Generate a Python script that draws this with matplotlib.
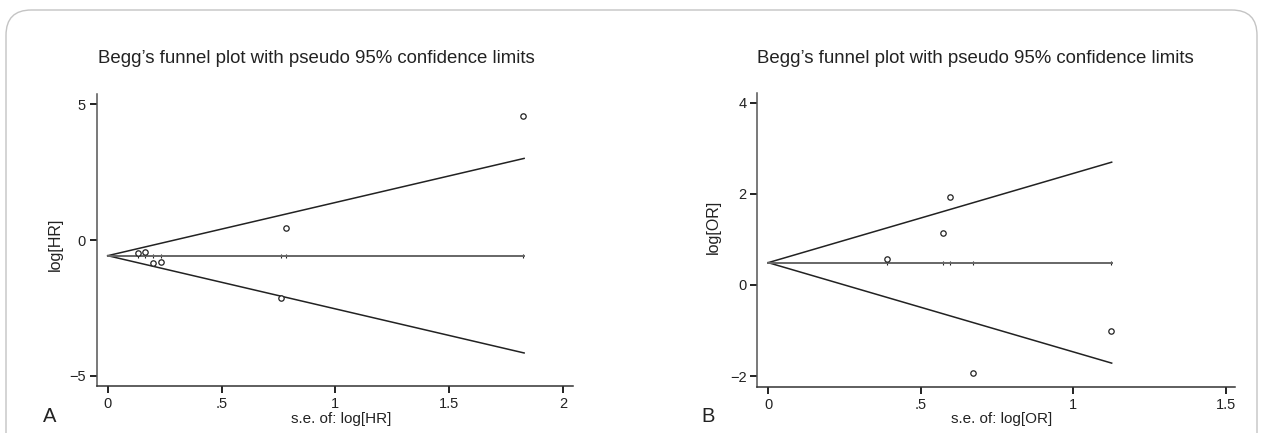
import matplotlib
matplotlib.use("Agg")
import matplotlib.pyplot as plt
from matplotlib.patches import FancyBboxPatch
import numpy as np

plt.rcParams['font.family'] = ['Liberation Sans', 'DejaVu Sans']

# panel A: log hazard ratios
se_hr = [1.825, 0.783, 0.762, 0.134, 0.164, 0.199, 0.236]
log_hr = [4.58, 0.45, -2.12, -0.47, -0.44, -0.83, -0.82]
pooled_hr = -0.578
xmax_hr = 1.829

# panel B: log odds ratios
se_or = [0.595, 0.574, 0.391, 1.125, 0.673]
log_or = [1.93, 1.14, 0.58, -1.01, -1.94]
pooled_or = 0.49
xmax_or = 1.126

title = "Begg\u2019s funnel plot with pseudo 95% confidence limits"
txt = '#222222'
W, H = 1262, 433

fig = plt.figure(figsize=(W / 100, H / 100), dpi=100)

# rounded frame around the figure
frame = FancyBboxPatch((6 / W, -0.2), 1251 / W, 1.2 - 10 / H, transform=fig.transFigure,
                       boxstyle="round,pad=0,rounding_size=0.02", fill=False,
                       edgecolor='#c4c4c4', lw=1.0, mutation_aspect=W / H)
fig.patches.append(frame)


def funnel(ax, se, eff, pooled, xmax, xlim, ylim, xticks, xticklabels, yticks,
           ylabel, xlabel, ylab_pos, xlab_pos):
    s = np.array([0, xmax])
    ax.plot(s, pooled + 1.96 * s, color='#222222', lw=1.1)
    ax.plot(s, pooled - 1.96 * s, color='#222222', lw=1.1)
    ax.plot(s, [pooled, pooled], color='#666666', lw=1.4)
    ax.scatter(se, [pooled] * len(se), marker='|', s=8, color='#222222', lw=0.8)
    ax.scatter(se, eff, s=15, facecolors='white', edgecolors='#222222', lw=0.9,
               zorder=3)
    ax.set_xlim(*xlim)
    ax.set_ylim(*ylim)
    ax.set_xticks(xticks)
    ax.set_xticklabels(xticklabels)
    ax.set_yticks(yticks)
    ax.set_yticklabels([str(v).replace('-', '\u2212') for v in yticks])
    for sp in ['top', 'right']:
        ax.spines[sp].set_visible(False)
    ax.spines['left'].set_color('#555555')
    ax.spines['bottom'].set_color('#333333')
    for sp in ['left', 'bottom']:
        ax.spines[sp].set_linewidth(1.1)
    ax.tick_params(direction='out', length=4.8, width=1.4, colors='#222222',
                   labelsize=10.5, labelcolor=txt, pad=3)
    ax.set_ylabel(ylabel, fontsize=11.5, color=txt, va='center')
    ax.yaxis.set_label_coords(*ylab_pos)
    ax.set_xlabel(xlabel, fontsize=11, color=txt, va='center')
    ax.xaxis.set_label_coords(*xlab_pos)


# axes boxes measured in pixels: left, right, bottom, top
axA = fig.add_axes([96.7 / W, 1 - 386 / H, 476.6 / W, 292 / H])
funnel(axA, se_hr, log_hr, pooled_hr, xmax_hr, (-0.0483, 2.045), (-5.38, 5.38),
       [0, 0.5, 1, 1.5, 2], ['0', '.5', '1', '1.5', '2'], [-5, 0, 5],
       'log[HR]', 's.e. of: log[HR]', (-0.0875, 0.486), (0.514, -0.113))

axB = fig.add_axes([757.4 / W, 1 - 386.7 / H, 477.2 / W, 293.4 / H])
funnel(axB, se_or, log_or, pooled_or, xmax_or, (-0.0354, 1.529), (-2.235, 4.21),
       [0, 0.5, 1, 1.5], ['0', '.5', '1', '1.5'], [-2, 0, 2, 4],
       'log[OR]', 's.e. of: log[OR]', (-0.0924, 0.545), (0.511, -0.11))

fig.text(316 / W, 1 - 58.3 / H, title, fontsize=13.4, color=txt, ha='center', va='center')
fig.text(975.7 / W, 1 - 58.3 / H, title, fontsize=13.4, color=txt, ha='center', va='center')

fig.text(50 / W, 1 - 416.7 / H, 'A', fontsize=14.5, color=txt, ha='center', va='center')
fig.text(708.3 / W, 1 - 416.7 / H, 'B', fontsize=14.5, color=txt, ha='center', va='center')

fig.savefig('out.png', dpi=100)
